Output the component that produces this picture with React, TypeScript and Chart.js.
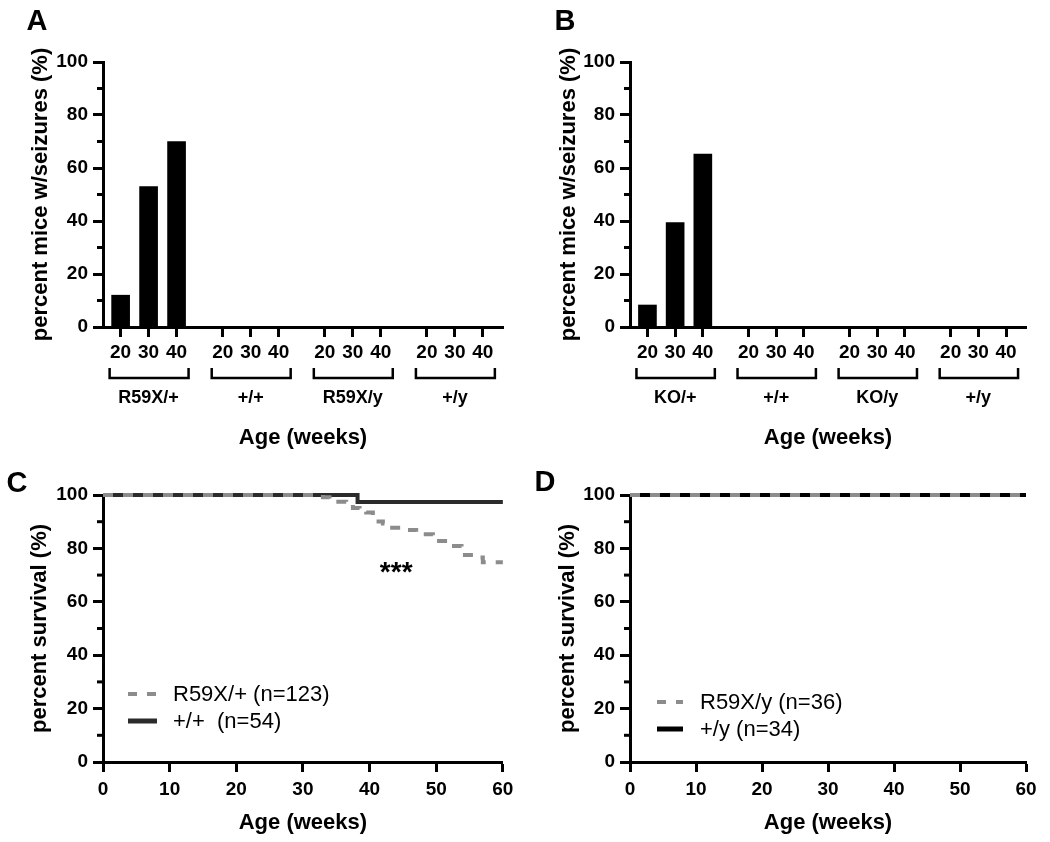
import React, { useEffect, useRef } from 'react';
import { Chart, registerables } from 'chart.js';

Chart.register(...registerables);

const FONT = "'Liberation Sans', Arial, Helvetica, sans-serif";

// ---------- Data ----------
const ageLabels = ['20', '30', '40'];
const groupsA = ['R59X/+', '+/+', 'R59X/y', '+/y'];
const groupsB = ['KO/+', '+/+', 'KO/y', '+/y'];
// percent mice with seizures, 3 ages per group (20, 30, 40 weeks)
const seizuresA = [12, 53, 70, 0, 0, 0, 0, 0, 0, 0, 0, 0];
const seizuresB = [8.3, 39.4, 65.3, 0, 0, 0, 0, 0, 0, 0, 0, 0];

// Panel C survival (Kaplan-Meier steps)
const weeksHetC = [0, 33, 34, 35, 36.5, 37.5, 38.5, 39.5, 40.5, 41, 42, 43, 45.5, 47, 49.5, 50, 52, 53.8, 56, 57, 60];
const survivalHetC = [100, 99.2, 98.4, 97.5, 96.7, 95.1, 94.3, 93.4, 91.8, 90.1, 89.3, 87.7, 86.9, 85.3, 84.4, 82.8, 80.9, 77.5, 76.6, 74.8, 74.8];
const weeksWtC = [0, 38.2, 60];
const survivalWtC = [100, 97.4, 97.4];
// Panel D survival
const weeksHemiD = [0, 60];
const survivalHemiD = [100, 100];
const weeksWtD = [0, 60];
const survivalWtD = [100, 100];

const legendC = ['R59X/+ (n=123)', '+/+  (n=54)'];
const legendD = ['R59X/y (n=36)', '+/y (n=34)'];

const yTitleBar = 'percent mice w/seizures (%)';
const yTitleSurv = 'percent survival (%)';
const xTitle = 'Age (weeks)';

// ---------- layout constants ----------
const GROUP_STEP = 3.65;
const BAR_X_MIN = -0.63;
const BAR_X_MAX = 13.67;

const tickFont = { family: FONT, size: 19, weight: 'bold' as const };
const titleFont = { family: FONT, size: 22, weight: 'bold' as const };

function yAxis(title: string, width: number, titlePad: number) {
  return {
    type: 'linear',
    min: 0,
    max: 100,
    afterFit: (s: any) => {
      s.width = width;
    },
    ticks: {
      stepSize: 10,
      autoSkip: false,
      color: '#000',
      font: tickFont,
      padding: 5,
      callback: (v: any) => (Number(v) % 20 === 0 ? String(v) : ''),
    },
    grid: {
      drawOnChartArea: false,
      tickLength: 10,
      tickWidth: 3,
      tickColor: (c: any) => (c.tick && c.tick.value % 20 === 0 ? '#000' : 'rgba(0,0,0,0)'),
    },
    border: { width: 3, color: '#000' },
    title: {
      display: true,
      text: title,
      color: '#000',
      font: titleFont,
      padding: { top: titlePad, bottom: 0 },
    },
  };
}

const minorTicksPlugin = {
  id: 'minorTicks',
  afterDraw(chart: any) {
    const ys = chart.scales.y;
    const ctx = chart.ctx;
    const left = chart.chartArea.left;
    ctx.save();
    ctx.strokeStyle = '#000';
    ctx.lineWidth = 3;
    ys.ticks.forEach((t: any) => {
      if (t.value % 20 !== 0) {
        const py = ys.getPixelForValue(t.value);
        ctx.beginPath();
        ctx.moveTo(left - 6, py);
        ctx.lineTo(left, py);
        ctx.stroke();
      }
    });
    ctx.restore();
  },
};

function bracketPlugin(groups: string[]) {
  return {
    id: 'brackets',
    afterDraw(chart: any) {
      const xs = chart.scales.x;
      const b = chart.chartArea.bottom;
      const ctx = chart.ctx;
      ctx.save();
      ctx.lineWidth = 2.5;
      ctx.strokeStyle = '#000';
      ctx.fillStyle = '#000';
      ctx.font = `bold 18px ${FONT}`;
      ctx.textAlign = 'center';
      ctx.textBaseline = 'middle';
      groups.forEach((g, gi) => {
        const x1 = xs.getPixelForValue(gi * GROUP_STEP) - 11;
        const x2 = xs.getPixelForValue(gi * GROUP_STEP + 2) + 12;
        const xm = xs.getPixelForValue(gi * GROUP_STEP + 1);
        ctx.beginPath();
        ctx.moveTo(x1, b + 41);
        ctx.lineTo(x1, b + 51);
        ctx.lineTo(x2, b + 51);
        ctx.lineTo(x2, b + 41);
        ctx.stroke();
        ctx.fillText(g, xm, b + 71);
      });
      ctx.restore();
    },
  };
}

function legendPlugin(labels: string[], lineDx: number, lineLen: number, textDx: number, rowDy: number, rowGap: number) {
  return {
    id: 'insideLegend',
    afterDraw(chart: any) {
      const ctx = chart.ctx;
      const { left, top } = chart.chartArea;
      ctx.save();
      chart.data.datasets.forEach((ds: any, i: number) => {
        const y = top + rowDy + i * rowGap;
        ctx.beginPath();
        ctx.strokeStyle = ds.borderColor;
        ctx.lineWidth = ds.borderDash ? 4 : 5;
        ctx.setLineDash(ds.borderDash ? [9, 10] : []);
        ctx.moveTo(left + lineDx, y);
        ctx.lineTo(left + lineDx + lineLen, y);
        ctx.stroke();
        ctx.setLineDash([]);
        ctx.fillStyle = '#000';
        ctx.font = `22px ${FONT}`;
        ctx.textAlign = 'left';
        ctx.textBaseline = 'middle';
        ctx.fillText(labels[i], left + textDx, y + 1);
      });
      ctx.restore();
    },
  };
}

const starsPlugin = {
  id: 'stars',
  afterDraw(chart: any) {
    const ctx = chart.ctx;
    const x = chart.scales.x.getPixelForValue(44);
    const y = chart.scales.y.getPixelForValue(72.3);
    ctx.save();
    ctx.fillStyle = '#000';
    ctx.font = `bold 28px ${FONT}`;
    ctx.textAlign = 'center';
    ctx.textBaseline = 'middle';
    ctx.fillText('***', x, y + 4);
    ctx.restore();
  },
};

function barConfig(values: number[], groups: string[], yWidth: number, yTitlePad: number, padRight: number) {
  const xs = values.map((_, i) => Math.floor(i / 3) * GROUP_STEP + (i % 3));
  return {
    type: 'bar',
    data: {
      datasets: [
        {
          data: values.map((y, i) => ({ x: xs[i], y })),
          backgroundColor: '#000',
          borderWidth: 0,
          barThickness: 18,
        },
      ],
    },
    options: {
      responsive: false,
      animation: false,
      layout: { padding: { top: 62, right: padRight, left: 0, bottom: 0 } },
      plugins: { legend: { display: false }, tooltip: { enabled: false } },
      scales: {
        x: {
          type: 'linear',
          min: BAR_X_MIN,
          max: BAR_X_MAX,
          offset: false,
          afterBuildTicks: (s: any) => {
            s.ticks = xs.map((v) => ({ value: v }));
          },
          afterFit: (s: any) => {
            s.height = 133;
          },
          ticks: {
            autoSkip: false,
            maxRotation: 0,
            color: '#000',
            font: tickFont,
            padding: 4.6,
            callback: (_v: any, i: number) => ageLabels[i % 3],
          },
          grid: { drawOnChartArea: false, offset: false, tickLength: 10, tickWidth: 3, tickColor: '#000' },
          border: { width: 3, color: '#000' },
          title: { display: true, text: xTitle, color: '#000', font: titleFont, padding: { top: 0, bottom: 8.8 } },
        },
        y: yAxis(yTitleBar, yWidth, yTitlePad),
      },
    },
    plugins: [minorTicksPlugin, bracketPlugin(groups)],
  };
}

function survConfig(
  sets: { label: string; weeks: number[]; surv: number[]; color: string; dash: number[] | null; width: number }[],
  legendLabels: string[],
  yWidth: number,
  yTitlePad: number,
  padRight: number,
  legendOpts: [number, number, number, number, number],
  extra: any[]
) {
  return {
    type: 'line',
    data: {
      datasets: sets.map((s) => ({
        label: s.label,
        data: s.weeks.map((w, i) => ({ x: w, y: s.surv[i] })),
        borderColor: s.color,
        borderWidth: s.width,
        borderDash: s.dash || undefined,
        stepped: true,
        pointRadius: 0,
        fill: false,
        clip: false,
      })),
    },
    options: {
      responsive: false,
      animation: false,
      layout: { padding: { top: 35, right: padRight, left: 0, bottom: 0 } },
      plugins: { legend: { display: false }, tooltip: { enabled: false } },
      scales: {
        x: {
          type: 'linear',
          min: 0,
          max: 60,
          afterFit: (s: any) => {
            s.height = 80;
          },
          ticks: { stepSize: 10, autoSkip: false, maxRotation: 0, color: '#000', font: tickFont, padding: 6.6 },
          grid: { drawOnChartArea: false, tickLength: 10, tickWidth: 3, tickColor: '#000' },
          border: { width: 3, color: '#000' },
          title: { display: true, text: xTitle, color: '#000', font: titleFont, padding: { top: 0, bottom: 5.8 } },
        },
        y: yAxis(yTitleSurv, yWidth, yTitlePad),
      },
    },
    plugins: [minorTicksPlugin, legendPlugin(legendLabels, ...legendOpts), ...extra],
  };
}

function ChartCanvas({ config, left, top, width, height }: any) {
  const ref = useRef<HTMLCanvasElement>(null);
  useEffect(() => {
    const chart = new Chart(ref.current as HTMLCanvasElement, config);
    return () => chart.destroy();
  }, []);
  return (
    <canvas
      ref={ref}
      width={width}
      height={height}
      style={{ position: 'absolute', left, top, width, height }}
    />
  );
}

function Letter({ text, x, y }: { text: string; x: number; y: number }) {
  return (
    <div
      style={{
        position: 'absolute',
        left: x,
        top: y,
        transform: 'translate(-50%, -50%)',
        font: `bold 29px ${FONT}`,
        lineHeight: '29px',
        color: '#000',
      }}
    >
      {text}
    </div>
  );
}

const GREY = '#8c8c8c';

export default function App() {
  const cfgA = barConfig(seizuresA, groupsA, 103, 27.8, 17);
  const cfgB = barConfig(seizuresB, groupsB, 110, 35.8, 24);
  const cfgC = survConfig(
    [
      { label: 'R59X/+', weeks: weeksHetC, surv: survivalHetC, color: GREY, dash: [10, 10], width: 4 },
      { label: '+/+', weeks: weeksWtC, surv: survivalWtC, color: '#2b2b2b', dash: null, width: 4 },
    ],
    legendC,
    103,
    26.8,
    17,
    [25, 29, 70, 199, 27],
    [starsPlugin]
  );
  const cfgD = survConfig(
    [
      { label: 'R59X/y', weeks: weeksHemiD, surv: survivalHemiD, color: GREY, dash: [10, 10], width: 4 },
      { label: '+/y', weeks: weeksWtD, surv: survivalWtD, color: '#000', dash: null, width: 4 },
    ],
    legendD,
    110,
    34.8,
    24,
    [27, 26, 70, 207, 27],
    []
  );
  return (
    <div style={{ position: 'absolute', left: 0, top: 0, width: 1050, height: 842, background: '#fff' }}>
      <ChartCanvas config={cfgA} left={0} top={0} width={520} height={460} />
      <ChartCanvas config={cfgB} left={520} top={0} width={530} height={460} />
      <ChartCanvas config={cfgC} left={0} top={460} width={520} height={382} />
      <ChartCanvas config={cfgD} left={520} top={460} width={530} height={382} />
      <Letter text="A" x={37} y={20} />
      <Letter text="B" x={565} y={20} />
      <Letter text="C" x={17} y={482} />
      <Letter text="D" x={545} y={481} />
    </div>
  );
}
